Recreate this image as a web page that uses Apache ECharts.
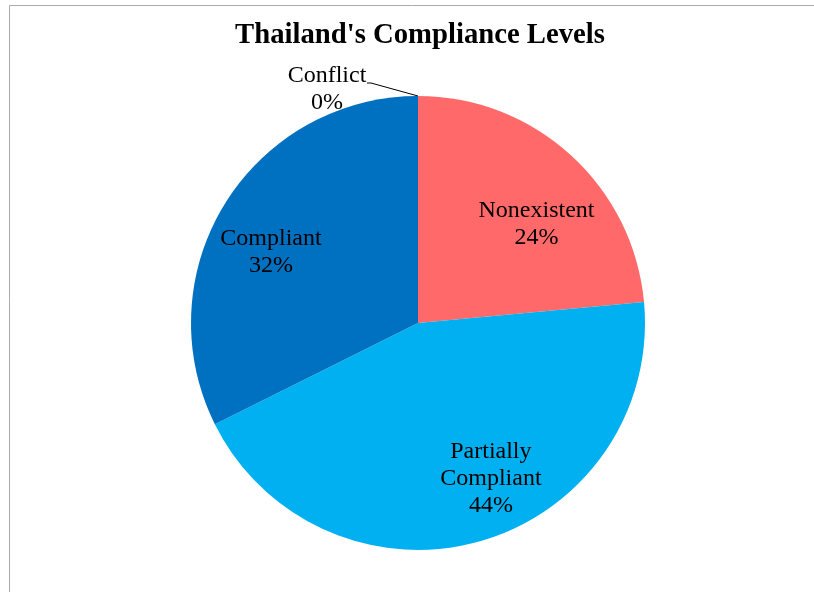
<!DOCTYPE html>
<html><head><meta charset="utf-8">
<script src="https://cdn.jsdelivr.net/npm/echarts@6/dist/echarts.min.js"></script>
<style>html,body{margin:0;padding:0;background:#fff}#c{width:814px;height:592px}</style>
</head><body><div id="c"></div>
<script>
const categories = ["Nonexistent", "Partially Compliant", "Compliant", "Conflict"];
const labelNames = ["Nonexistent", "Partially\nCompliant", "Compliant", "Conflict"];
const values = [8, 15, 11, 0];
const colors = ["#FF6969", "#00B0F0", "#0070C0", "#7F7F7F"];
const labelOffsets = [[40, -13], [41, 44], [-48, -9], [0, 0]];

const chart = echarts.init(document.getElementById('c'), null, {renderer: 'canvas'});
const cx = 418, cy = 323, R = 227;
const data = categories.map((c, i) => {
  const d = {name: c, value: values[i], itemStyle: {color: colors[i]},
    label: {formatter: labelNames[i] + '\n{d}%', offset: labelOffsets[i]}};
  if (i === 3) {
    d.label = {position: 'outside', formatter: labelNames[i] + '\n{d}%', align: 'center'};
    d.labelLine = {show: true, lineStyle: {color: '#000', width: 1}};
  }
  return d;
});
chart.setOption({
  backgroundColor: '#fff',
  title: {text: "Thailand's Compliance Levels", left: 415, textAlign: 'center', top: 16,
    textStyle: {fontFamily: 'Liberation Serif', fontWeight: 'bold', fontSize: 28.7, color: '#000'}},
  graphic: [{type: 'rect', shape: {x: 9.5, y: 5.5, width: 900, height: 700},
    style: {fill: 'none', stroke: '#ABABAB', lineWidth: 1}, silent: true}],
  series: [{
    type: 'pie', center: [cx, cy], radius: R, startAngle: 90, clockwise: true,
    animation: false, avoidLabelOverlap: false, minShowLabelAngle: 0, percentPrecision: 0,
    label: {show: true, position: 'inside', color: '#000', fontFamily: 'Liberation Serif',
      fontSize: 24, lineHeight: 27, align: 'center'},
    labelLine: {show: false},
    itemStyle: {borderWidth: 0},
    emphasis: {disabled: true},
    labelLayout: function (p) {
      if (p.dataIndex === 3) {
        return {x: 327, y: 89, align: 'center', verticalAlign: 'middle',
          labelLinePoints: [[cx, cy - R], [371, 83], [367, 83]]};
      }
    },
    data: data
  }]
});
</script></body></html>
